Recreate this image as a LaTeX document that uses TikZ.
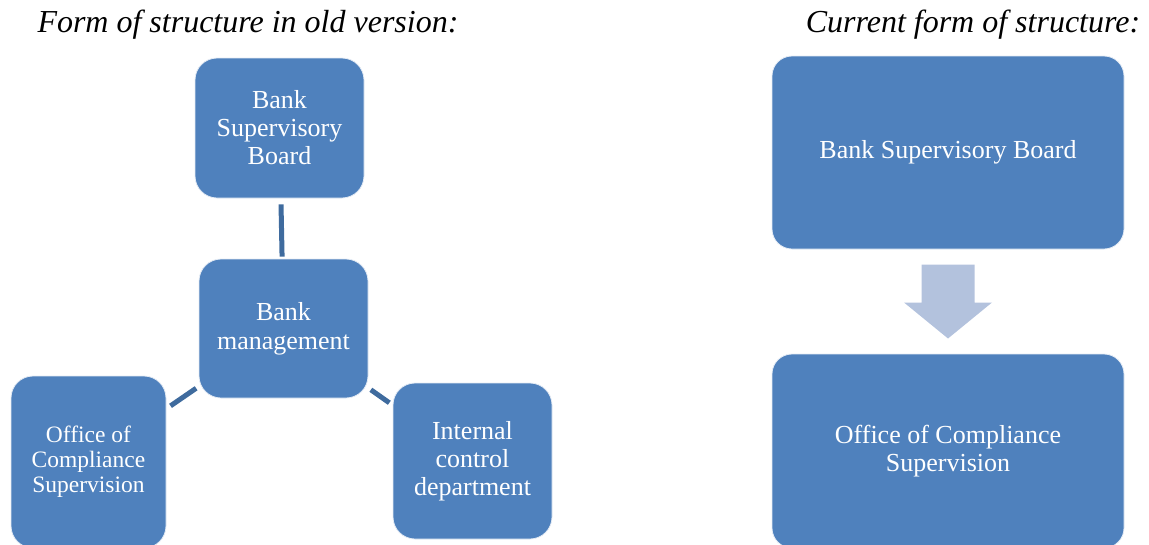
\documentclass[tikz,border=0pt]{standalone}
\usepackage{fontspec}
\setmainfont{Liberation Serif}
\usepackage{tikz}
\usetikzlibrary{calc}
\definecolor{orgblue}{HTML}{4F81BD}
\definecolor{orgline}{HTML}{3F6B9E}
\definecolor{orgarrow}{HTML}{B3C2DD}
\tikzset{
  unit/.style={rounded corners=22pt,draw=white!85!orgblue,line width=0.8pt,fill=orgblue,text=white,align=center,inner sep=2pt,font=\fontsize{26}{28}\selectfont},
  bigunit/.style={unit,rounded corners=20pt,minimum width=352pt},
  title/.style={font=\fontsize{32}{34}\selectfont\itshape,inner sep=0pt},
  link/.style={draw=orgline,line width=5pt},
}
\begin{document}
\begin{tikzpicture}[x=1pt,y=-1pt]
  \useasboundingbox (0,0) rectangle (1149,544);
  % old version
  \node[title] (oldtitle) at (248,24.5) {Form of structure in old version:};
  \node[unit,minimum width=169pt,minimum height=140pt] (board) at (279.5,128) {Bank\\Supervisory\\Board};
  \node[unit,minimum width=169pt,minimum height=139pt] (mgmt) at (283.5,328.5) {Bank\\[1pt]management};
  \node[unit,minimum width=155pt,minimum height=172pt,font=\fontsize{23.5}{25}\selectfont] (office) at (88.5,462) {Office of\\Compliance\\Supervision};
  \node[unit,minimum width=159pt,minimum height=156pt] (icd) at (472.5,461) {Internal\\control\\department};

  \draw[link,shorten <=6pt,shorten >=2pt] (board) -- (mgmt);
  \draw[link,shorten <=3pt,shorten >=5pt] (mgmt) -- (office);
  \draw[link,shorten <=3pt,shorten >=4pt] (mgmt) -- (icd);

  % current version
  \node[title] (newtitle) at (973,24.5) {Current form of structure:};
  \node[bigunit,minimum height=193pt] (newboard) at (948,152.5) {Bank Supervisory Board};
  \node[bigunit,minimum height=194pt] (newoffice) at (948,451) {Office of Compliance\\Supervision};

  \coordinate (mid) at ($(newboard.south)!0.5!(newoffice.north)$);
  \fill[orgarrow] ([shift={(-26.5,-37)}]mid) -- ([shift={(26.5,-37)}]mid) -- ([shift={(26.5,1)}]mid)
    -- ([shift={(44,1)}]mid) -- ([shift={(0,37)}]mid) -- ([shift={(-44,1)}]mid) -- ([shift={(-26.5,1)}]mid) -- cycle;
\end{tikzpicture}
\end{document}
